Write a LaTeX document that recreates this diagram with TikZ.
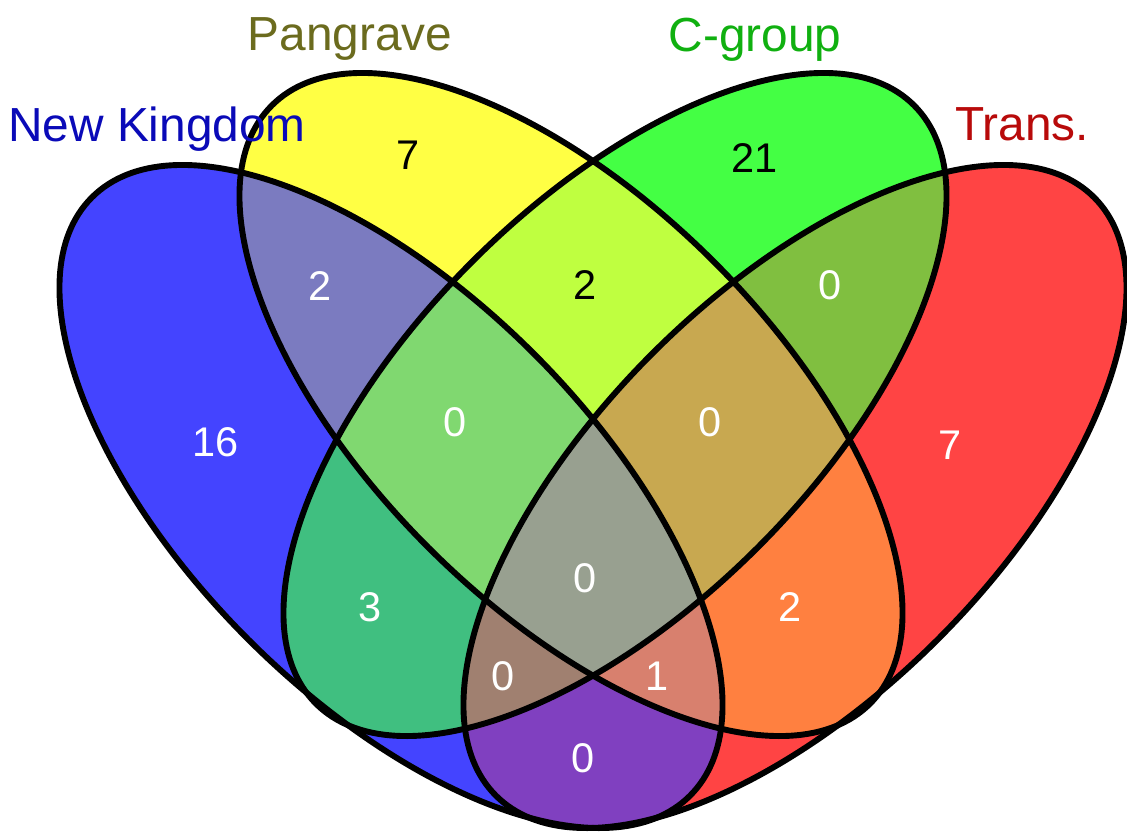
\documentclass[tikz,border=0pt]{standalone}
\usepackage{fontspec}
\setmainfont{Liberation Sans}
\usepackage{xcolor}
% single sets
\definecolor{nkfill}{HTML}{4444FF}
\definecolor{pgfill}{HTML}{FFFF44}
\definecolor{cgfill}{HTML}{44FF44}
\definecolor{trfill}{HTML}{FF4444}
% overlaps
\definecolor{nkpg}{HTML}{7B7BC0}
\definecolor{pgcg}{HTML}{BFFF40}
\definecolor{cgtr}{HTML}{80BF40}
\definecolor{nkcg}{HTML}{40BF80}
\definecolor{pgtr}{HTML}{FF8040}
\definecolor{nktr}{HTML}{8040C0}
\definecolor{nkpgcg}{HTML}{80D870}
\definecolor{pgcgtr}{HTML}{C8A850}
\definecolor{nkcgtr}{HTML}{A08070}
\definecolor{nkpgtr}{HTML}{D8806E}
\definecolor{allfour}{HTML}{98A090}
% label colours
\definecolor{nktxt}{HTML}{0A0AB8}
\definecolor{pgtxt}{HTML}{6B6B1E}
\definecolor{cgtxt}{HTML}{10B010}
\definecolor{trtxt}{HTML}{B80A0A}
\tikzset{
  nk/.style={shift={(391,496.5)},rotate=-45},
  pg/.style={shift={(571,404.5)},rotate=-45},
  cg/.style={shift={(615,404.5)},rotate=45},
  tr/.style={shift={(795,496.5)},rotate=45},
  oval/.style={draw=black,line width=4.2pt},
  cnt/.style={font=\fontsize{29.5}{31}\selectfont,text=#1,inner sep=0pt},
  cnt/.default=white,
  setlbl/.style={font=\fontsize{34}{36}\selectfont,text=#1,anchor=base,inner sep=0pt},
}
\newcommand{\clipoval}[1]{\clip[#1] (0,0) ellipse [x radius=423, y radius=202];}
\newcommand{\vennzone}[2]{\begin{scope}#2\fill[#1] (0,0) rectangle (1127,831);\end{scope}}
\begin{document}
\begin{tikzpicture}[x=0.025cm,y=-0.025cm]
  \useasboundingbox (0,0) rectangle (1127,831);
  \fill[white] (0,0) rectangle (1127,831);

  % regions, painted from single sets up to all four
  \vennzone{nkfill}{\clipoval{nk}}
  \vennzone{pgfill}{\clipoval{pg}}
  \vennzone{cgfill}{\clipoval{cg}}
  \vennzone{trfill}{\clipoval{tr}}
  \vennzone{nkpg}{\clipoval{nk}\clipoval{pg}}
  \vennzone{pgcg}{\clipoval{pg}\clipoval{cg}}
  \vennzone{cgtr}{\clipoval{cg}\clipoval{tr}}
  \vennzone{nkcg}{\clipoval{nk}\clipoval{cg}}
  \vennzone{pgtr}{\clipoval{pg}\clipoval{tr}}
  \vennzone{nktr}{\clipoval{nk}\clipoval{tr}}
  \vennzone{nkpgcg}{\clipoval{nk}\clipoval{pg}\clipoval{cg}}
  \vennzone{pgcgtr}{\clipoval{pg}\clipoval{cg}\clipoval{tr}}
  \vennzone{nkcgtr}{\clipoval{nk}\clipoval{cg}\clipoval{tr}}
  \vennzone{nkpgtr}{\clipoval{nk}\clipoval{pg}\clipoval{tr}}
  \vennzone{allfour}{\clipoval{nk}\clipoval{pg}\clipoval{cg}\clipoval{tr}}

  % outlines
  \draw[oval,nk] (0,0) ellipse [x radius=423, y radius=202];
  \draw[oval,pg] (0,0) ellipse [x radius=423, y radius=202];
  \draw[oval,cg] (0,0) ellipse [x radius=423, y radius=202];
  \draw[oval,tr] (0,0) ellipse [x radius=423, y radius=202];

  % set names
  \node[setlbl=nktxt] (lblnk) at (157,141) {New Kingdom};
  \node[setlbl=pgtxt] (lblpg) at (350,50) {Pangrave};
  \node[setlbl=cgtxt] (lblcg) at (755,51) {C-group};
  \node[setlbl=trtxt] (lbltr) at (1022,140) {Trans.};

  % counts
  \node[cnt] (cnk) at (216,442) {16};
  \node[cnt=black] (cpg) at (408,155) {7};
  \node[cnt=black] (ccg) at (755,158) {21};
  \node[cnt] (ctr) at (950,445) {7};
  \node[cnt] (cnkpg) at (320,286) {2};
  \node[cnt=black] (cpgcg) at (585,285) {2};
  \node[cnt] (ccgtr) at (830,285) {0};
  \node[cnt] (cnkpgcg) at (455,422) {0};
  \node[cnt] (cpgcgtr) at (710,422) {0};
  \node[cnt] (cnkcg) at (370,607) {3};
  \node[cnt] (call) at (585,578) {0};
  \node[cnt] (cpgtr) at (790,607) {2};
  \node[cnt] (cnkcgtr) at (503,676) {0};
  \node[cnt] (cnkpgtr) at (657,676) {1};
  \node[cnt] (cnktr) at (583,758) {0};
\end{tikzpicture}
\end{document}
